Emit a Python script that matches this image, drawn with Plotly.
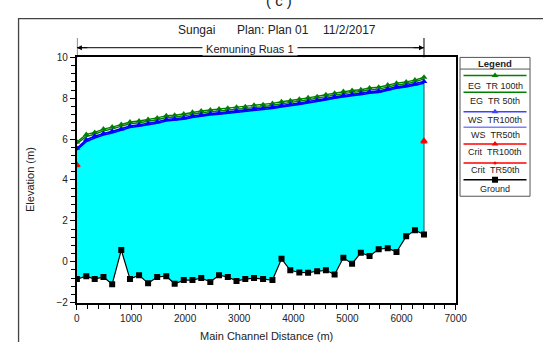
import plotly.graph_objects as go

W, H = 543, 342

# ---------------- data ----------------
station = [0, 174, 329, 491, 652, 820, 981, 1149, 1316, 1484, 1652, 1807, 1975, 2136,
           2298, 2466, 2627, 2789, 2950, 3112, 3274, 3441, 3614, 3782, 3944, 4111, 4273,
           4440, 4602, 4763, 4925, 5086, 5248, 5409, 5578, 5745, 5907, 6086, 6248, 6415]

ground = [-0.85, -0.71, -0.85, -0.75, -1.10, 0.57, -0.85, -0.66, -1.06, -0.75, -0.71, -1.08,
          -0.90, -0.90, -0.80, -0.99, -0.66, -0.75, -0.94, -0.85, -0.80, -0.85, -0.90, 0.14,
          -0.42, -0.53, -0.54, -0.47, -0.42, -0.63, 0.19, -0.10, 0.44, 0.28, 0.61, 0.66,
          0.47, 1.24, 1.54, 1.33]

eg_100 = [5.86, 6.23, 6.33, 6.49, 6.59, 6.71, 6.84, 6.89, 6.96, 7.04, 7.15, 7.17, 7.23, 7.31,
          7.38, 7.43, 7.47, 7.51, 7.56, 7.59, 7.66, 7.68, 7.75, 7.83, 7.88, 7.95, 8.02, 8.08,
          8.17, 8.25, 8.33, 8.38, 8.42, 8.50, 8.54, 8.65, 8.74, 8.80, 8.89, 9.03]

eg_50 = [5.78, 6.13, 6.24, 6.40, 6.50, 6.62, 6.75, 6.80, 6.87, 6.95, 7.06, 7.08, 7.14, 7.22,
         7.29, 7.34, 7.38, 7.42, 7.47, 7.50, 7.57, 7.59, 7.66, 7.74, 7.79, 7.86, 7.93, 7.99,
         8.08, 8.16, 8.24, 8.29, 8.33, 8.41, 8.45, 8.56, 8.65, 8.71, 8.80, 8.95]

ws_100 = [5.55, 5.97, 6.14, 6.28, 6.38, 6.50, 6.64, 6.70, 6.77, 6.85, 6.96, 6.99, 7.05, 7.13,
          7.20, 7.25, 7.29, 7.33, 7.38, 7.41, 7.48, 7.50, 7.57, 7.65, 7.70, 7.77, 7.84, 7.90,
          7.99, 8.07, 8.15, 8.20, 8.24, 8.32, 8.36, 8.47, 8.56, 8.62, 8.70, 8.82]

ws_50 = [5.47, 5.88, 6.06, 6.20, 6.30, 6.43, 6.57, 6.63, 6.70, 6.78, 6.89, 6.92, 6.98, 7.06,
         7.13, 7.18, 7.22, 7.26, 7.31, 7.34, 7.41, 7.43, 7.50, 7.58, 7.63, 7.70, 7.77, 7.83,
         7.92, 8.00, 8.08, 8.13, 8.17, 8.25, 8.29, 8.40, 8.49, 8.55, 8.63, 8.74]

crit_100 = [4.75] + [None] * 38 + [5.92]
crit_50 = [4.70] + [None] * 38 + [5.86]

title_parts = ["Sungai", "Plan: Plan 01", "11/2/2017"]
reach_name = "Kemuning Ruas 1"
x_title = "Main Channel Distance (m)"
y_title = "Elevation (m)"
legend_labels = ["EG\u00a0\u00a0TR 100th", "EG\u00a0\u00a0TR 50th", "WS\u00a0\u00a0TR100th",
                 "WS\u00a0\u00a0TR50th", "Crit\u00a0\u00a0TR100th", "Crit\u00a0\u00a0TR50th", "Ground"]

# ---------------- styles ----------------
GREEN = "#008000"
BLUE = "#0000ff"
BLUE2 = "#4040ff"
RED = "#ff0000"
CYAN = "#00ffff"
FONT = "Liberation Sans, Arial, sans-serif"
TXT = "#222222"

def px(x):
    return x / W

def py(y):
    return 1 - y / H

PLOT_L, PLOT_R, PLOT_T, PLOT_B = 76, 465.5, 54, 306.5

fig = go.Figure()

# water fill (ground -> WS)
fig.add_trace(go.Scatter(x=station, y=ground, mode="lines", line=dict(width=0, color=CYAN),
                         hoverinfo="skip", showlegend=False))
fig.add_trace(go.Scatter(x=station, y=ws_100, mode="lines", line=dict(width=0, color=CYAN),
                         fill="tonexty", fillcolor=CYAN, hoverinfo="skip", showlegend=False))

# vertical edge at downstream end
fig.add_trace(go.Scatter(x=[station[-1], station[-1]], y=[ground[-1], ws_100[-1]], mode="lines",
                         line=dict(width=1.2, color="#207070"), hoverinfo="skip", showlegend=False))

tri = dict(symbol="triangle-up", size=6)
fig.add_trace(go.Scatter(x=station, y=eg_50, mode="lines", name="EG TR 50th",
                         line=dict(color=GREEN, width=1.4), showlegend=False))
fig.add_trace(go.Scatter(x=station, y=eg_100, mode="lines+markers", name="EG TR 100th",
                         line=dict(color=GREEN, width=1.4), marker=dict(color=GREEN, **tri),
                         showlegend=False))
fig.add_trace(go.Scatter(x=station, y=ws_50, mode="lines", name="WS TR 50th",
                         line=dict(color=BLUE, width=1.6), showlegend=False))
fig.add_trace(go.Scatter(x=station, y=ws_100, mode="lines+markers", name="WS TR 100th",
                         line=dict(color=BLUE, width=1.6), marker=dict(color=BLUE, **tri),
                         showlegend=False))
fig.add_trace(go.Scatter(x=station, y=crit_50, mode="markers", name="Crit TR 50th",
                         marker=dict(color=RED, symbol="triangle-up", size=6), showlegend=False))
fig.add_trace(go.Scatter(x=station, y=crit_100, mode="markers", name="Crit TR 100th",
                         marker=dict(color=RED, symbol="triangle-up", size=7), showlegend=False))
fig.add_trace(go.Scatter(x=station, y=ground, mode="lines+markers", name="Ground",
                         line=dict(color="black", width=1.2),
                         marker=dict(color="black", symbol="square", size=6), showlegend=False))

# ---------------- custom legend (auxiliary axes) ----------------
LEG_L, LEG_R, LEG_T, LEG_B = 470, 542, 54, 197
leg_line_y = [72.7, 90, 110, 126, 143.3, 162.7, 180]
leg_text_y = [83.3, 98.6, 118.5, 133.5, 151.8, 169.6, 189.3]
leg_colors = [GREEN, GREEN, BLUE2, "#8080ff", RED, RED, "black"]
leg_marker = ["triangle-up", None, "triangle-up", None, "triangle-up", "circle", "square"]

for ly, col, mk in zip(leg_line_y, leg_colors, leg_marker):
    fig.add_trace(go.Scatter(x=[0.05, 0.95], y=[ly, ly], mode="lines", line=dict(color=col, width=1.5),
                             xaxis="x2", yaxis="y2", hoverinfo="skip", showlegend=False))
    if mk:
        fig.add_trace(go.Scatter(x=[0.5], y=[ly], mode="markers",
                                 marker=dict(color=col, symbol=mk, size=6 if mk != "circle" else 3),
                                 xaxis="x2", yaxis="y2", hoverinfo="skip", showlegend=False))

annotations = []
shapes = []

# legend box + header
shapes.append(dict(type="rect", xref="paper", yref="paper", x0=px(LEG_L), x1=px(LEG_R),
                   y0=py(LEG_B), y1=py(LEG_T), line=dict(color="#555555", width=1)))
shapes.append(dict(type="line", xref="paper", yref="paper", x0=px(LEG_L), x1=px(LEG_R),
                   y0=py(66), y1=py(66), line=dict(color="#555555", width=1)))
annotations.append(dict(text="<b>Legend</b>", x=px((LEG_L + LEG_R) / 2), y=py(60), xref="paper",
                        yref="paper", showarrow=False, font=dict(family=FONT, size=9.5, color=TXT),
                        xanchor="center", yanchor="middle"))
for lab, ty in zip(legend_labels, leg_text_y):
    annotations.append(dict(text=lab, x=px((LEG_L + LEG_R) / 2), y=py(ty), xref="paper", yref="paper",
                            showarrow=False, font=dict(family=FONT, size=9, color=TXT),
                            xanchor="center", yanchor="middle"))

# outer frame
shapes.append(dict(type="rect", xref="paper", yref="paper", x0=px(16), x1=px(560), y0=py(360),
                   y1=py(14), line=dict(color="#444444", width=1.3), layer="below"))

# title
for t, cx in zip(title_parts, [199, 277.5, 356]):
    annotations.append(dict(text=t, x=px(cx), y=py(25.5), xref="paper", yref="paper", showarrow=False,
                            font=dict(family=FONT, size=12, color=TXT), xanchor="center",
                            yanchor="middle"))
# cut caption at top
annotations.append(dict(text="( c )", x=px(284), y=py(-5), xref="paper", yref="paper", showarrow=False,
                        font=dict(family=FONT, size=15, color=TXT), xanchor="center", yanchor="middle"))

# reach arrow
ARROW_Y = 44
x0d, x1d = station[0], station[-1]
xmid = (x0d + x1d) / 2
shapes.append(dict(type="line", xref="x", yref="paper", x0=x0d, x1=x1d, y0=py(ARROW_Y), y1=py(ARROW_Y),
                   line=dict(color="black", width=1)))
for xe in (x0d, x1d):
    shapes.append(dict(type="line", xref="x", yref="paper", x0=xe, x1=xe, y0=py(PLOT_T), y1=py(34),
                       line=dict(color="black", width=1)))
annotations.append(dict(x=x1d, y=py(ARROW_Y), xref="x", yref="paper", ax=-12, ay=0, text="",
                        showarrow=True, arrowhead=2, arrowsize=1, arrowwidth=1, arrowcolor="black"))
annotations.append(dict(x=x0d, y=py(ARROW_Y), xref="x", yref="paper", ax=12, ay=0, text="",
                        showarrow=True, arrowhead=2, arrowsize=1, arrowwidth=1, arrowcolor="black"))
annotations.append(dict(text="\u00a0" + reach_name + "\u00a0", x=xmid, y=py(45), xref="x", yref="paper",
                        showarrow=False, bgcolor="white", borderpad=0,
                        font=dict(family=FONT, size=11, color=TXT), xanchor="center",
                        yanchor="middle"))

# axis titles
annotations.append(dict(text=x_title, x=px(270.5), y=py(341), xref="paper", yref="paper",
                        showarrow=False, font=dict(family=FONT, size=11, color=TXT),
                        xanchor="center", yanchor="middle"))
annotations.append(dict(text=y_title, x=px(28), y=py(180), xref="paper", yref="paper",
                        showarrow=False, textangle=-90, font=dict(family=FONT, size=11, color=TXT),
                        xanchor="center", yanchor="middle"))

fig.update_layout(
    width=W, height=H, autosize=False,
    margin=dict(l=0, r=0, t=0, b=0),
    paper_bgcolor="white", plot_bgcolor="white",
    showlegend=False,
    xaxis=dict(domain=[px(PLOT_L), px(PLOT_R)], range=[0, 7000], dtick=1000, tick0=0,
               showgrid=False, zeroline=False, showline=True, linecolor="black", linewidth=2,
               mirror=True, ticks="outside", ticklen=5, tickwidth=1, tickcolor="black",
               minor=dict(dtick=200, ticks="outside", ticklen=4, tickcolor="black", showgrid=False),
               tickfont=dict(family=FONT, size=10, color=TXT)),
    yaxis=dict(domain=[py(PLOT_B), py(PLOT_T)], range=[-2, 10], dtick=2, tick0=0,
               showgrid=False, zeroline=False, showline=True, linecolor="black", linewidth=2,
               mirror=True, ticks="outside", ticklen=5, tickwidth=1, tickcolor="black",
               minor=dict(dtick=0.4, ticks="outside", ticklen=4, tickcolor="black", showgrid=False),
               tickfont=dict(family=FONT, size=10, color=TXT)),
    xaxis2=dict(domain=[px(LEG_L), px(LEG_R)], range=[0, 1], visible=False, fixedrange=True,
                anchor="y2"),
    yaxis2=dict(domain=[py(LEG_B), py(LEG_T)], range=[LEG_B, LEG_T], visible=False, fixedrange=True,
                anchor="x2"),
    annotations=annotations,
    shapes=shapes,
)

fig.write_html("out.html")
